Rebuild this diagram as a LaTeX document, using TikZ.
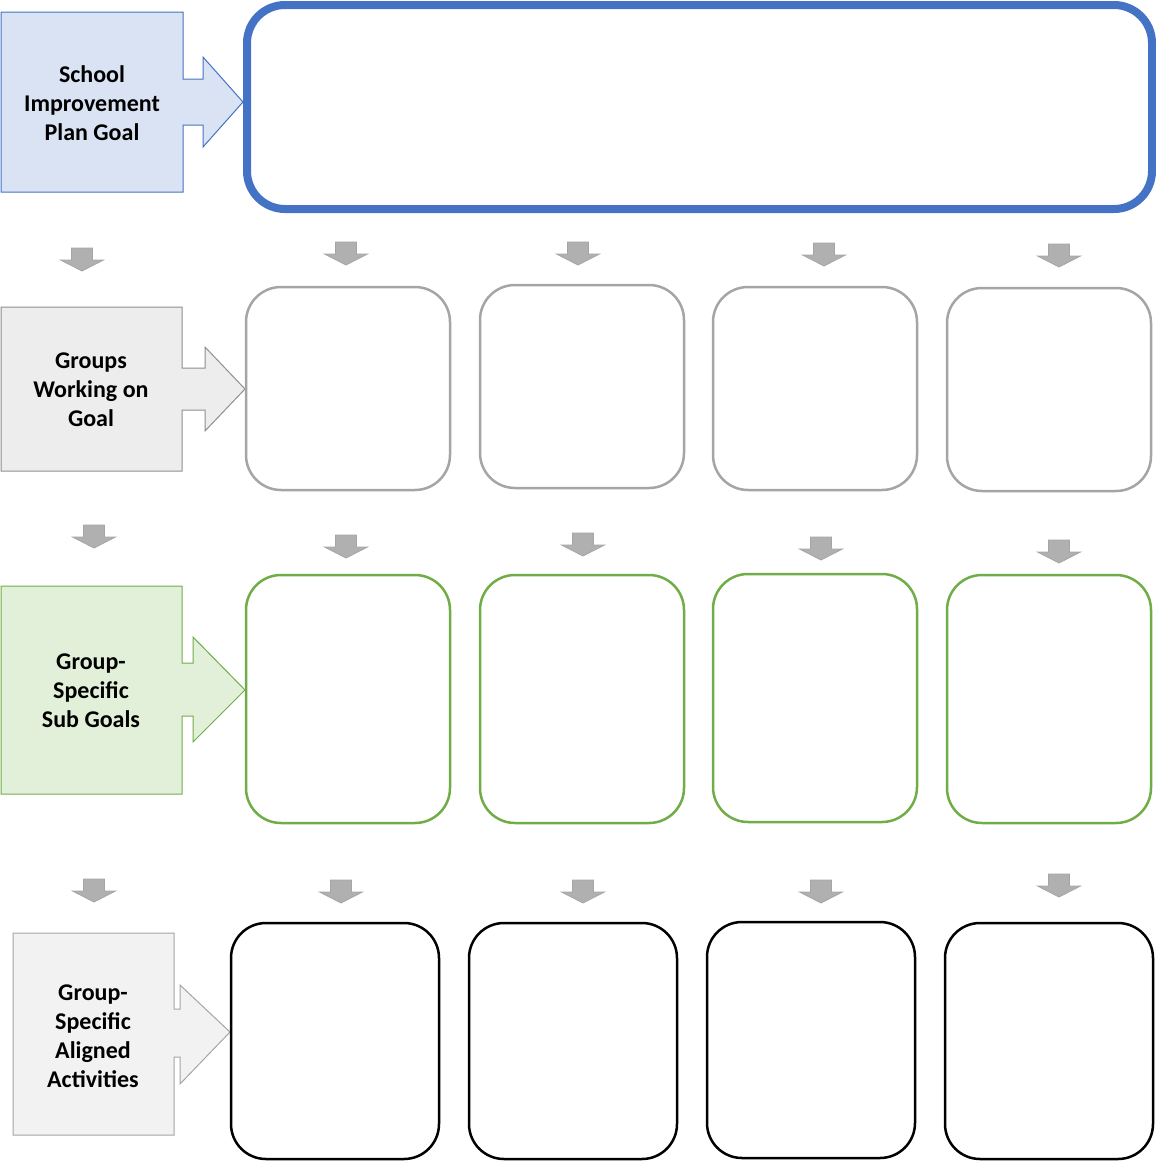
\documentclass[tikz,border=0pt]{standalone}
\usepackage{fontspec}
\setmainfont{Carlito}
\definecolor{blueline}{HTML}{4472C4}
\definecolor{bluefill}{HTML}{DAE3F3}
\definecolor{grayline}{HTML}{A5A5A5}
\definecolor{calloutgray}{HTML}{8F8F8F}
\definecolor{grayfill}{HTML}{EDEDED}
\definecolor{grayfillb}{HTML}{F2F2F2}
\definecolor{greenline}{HTML}{70AD47}
\definecolor{greenfill}{HTML}{E2F0D9}
\definecolor{arrfill}{HTML}{B0B0B0}
\definecolor{arrline}{HTML}{A5A5A5}
\begin{document}
\begin{tikzpicture}[x=1pt,y=-1pt,
  lbl/.style={align=center,font=\bfseries\fontsize{24}{29}\selectfont,text=black},
  rbox/.style={draw,rounded corners=35pt,line width=2.5pt,minimum width=204pt,minimum height=203pt,inner sep=0pt},
  arrowgray/.style={fill=arrfill,draw=arrline,line width=0.8pt,line join=miter},
  downarr/.pic={\draw[arrowgray] (-10.5,0) -- (10.5,0) -- (10.5,12) -- (21.5,12) -- (0,23) -- (-21.5,12) -- (-10.5,12) -- cycle;}
]
\useasboundingbox (0,0) rectangle (1156,1162);

% ---------- Row 1 ----------
\draw[fill=bluefill,draw=blueline,line width=1pt,line join=miter]
  (1,12) -- (183,12) -- (183,79) -- (203,79) -- (203,57) -- (243,102) -- (203,147) -- (203,125) -- (183,125) -- (183,192) -- (1,192) -- cycle;
\node[lbl] (sipg) at (92,103) {School\\Improvement\\Plan Goal};
\node[draw=blueline,line width=8pt,rounded corners=38pt,minimum width=905pt,minimum height=204pt,inner sep=0pt] (goal) at (699.5,107) {};

\pic at (82,248) {downarr};
\pic at (346,242) {downarr};
\pic at (578,242) {downarr};
\pic at (824,243) {downarr};
\pic at (1059,244) {downarr};

% ---------- Row 2 ----------
\draw[fill=grayfill,draw=calloutgray,line width=1pt,line join=miter]
  (1,307) -- (182,307) -- (182,368) -- (205,368) -- (205,347) -- (245,389) -- (205,431) -- (205,410) -- (182,410) -- (182,471) -- (1,471) -- cycle;
\node[lbl] (gwg) at (91,390) {Groups\\Working on\\Goal};
\node[rbox,draw=grayline] (g1) at (348,388.5) {};
\node[rbox,draw=grayline] (g2) at (582,386.5) {};
\node[rbox,draw=grayline] (g3) at (815,388.5) {};
\node[rbox,draw=grayline] (g4) at (1049,389.5) {};

\pic at (94,525) {downarr};
\pic at (346,535) {downarr};
\pic at (583,533) {downarr};
\pic at (821,537) {downarr};
\pic at (1059,540) {downarr};

% ---------- Row 3 ----------
\draw[fill=greenfill,draw=greenline,line width=1pt,line join=miter]
  (1,586) -- (182,586) -- (182,663) -- (193,663) -- (193,637) -- (245,690) -- (193,742) -- (193,716) -- (182,716) -- (182,794) -- (1,794) -- cycle;
\node[lbl] (gssg) at (91,691) {Group-\\Specific\\Sub Goals};
\node[rbox,draw=greenline,minimum height=248pt] (s1) at (348,699) {};
\node[rbox,draw=greenline,minimum height=248pt] (s2) at (582,699) {};
\node[rbox,draw=greenline,minimum height=248pt] (s3) at (815,698) {};
\node[rbox,draw=greenline,minimum height=248pt] (s4) at (1049,699) {};

\pic at (94,879) {downarr};
\pic at (341,880) {downarr};
\pic at (583,880) {downarr};
\pic at (821,880) {downarr};
\pic at (1059,874) {downarr};

% ---------- Row 4 ----------
\draw[fill=grayfillb,draw=grayline,line width=1pt,line join=miter]
  (13,933) -- (174,933) -- (174,1009) -- (180,1009) -- (180,985) -- (230,1032) -- (180,1084) -- (180,1057) -- (174,1057) -- (174,1135) -- (13,1135) -- cycle;
\node[lbl] (gsaa) at (93,1036) {Group-\\Specific\\Aligned\\Activities};
\node[rbox,draw=black,minimum width=208pt,minimum height=236pt] (a1) at (335,1041) {};
\node[rbox,draw=black,minimum width=208pt,minimum height=236pt] (a2) at (573,1041) {};
\node[rbox,draw=black,minimum width=208pt,minimum height=236pt] (a3) at (811,1040) {};
\node[rbox,draw=black,minimum width=208pt,minimum height=236pt] (a4) at (1049,1041) {};
\end{tikzpicture}
\end{document}
